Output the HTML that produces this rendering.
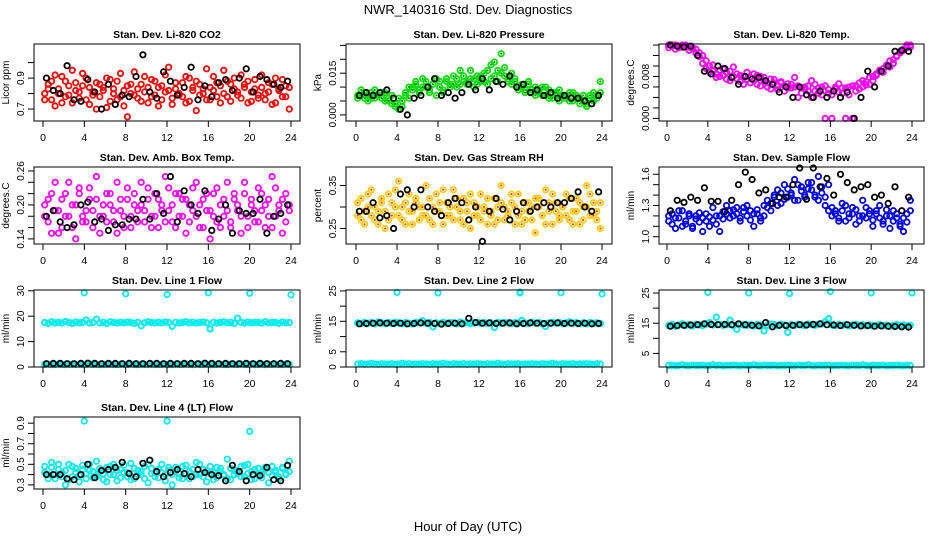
<!DOCTYPE html>
<html><head><meta charset="utf-8"><style>
html,body{margin:0;padding:0;background:#fff;}
svg{display:block;font-family:"Liberation Sans",sans-serif;}
</style></head><body>
<svg id="chart" width="936" height="540" viewBox="0 0 936 540" xmlns="http://www.w3.org/2000/svg">
<rect width="936" height="540" fill="#fff"/>
<text x="468" y="14" text-anchor="middle" font-size="13">NWR_140316  Std. Dev. Diagnostics</text>
<text x="468" y="531" text-anchor="middle" font-size="13">Hour of Day (UTC)</text>
</svg>
<script>
const hourTicks = [0,4,8,12,16,20,24];

const co2Red = [0.80,0.86,0.76,0.92,0.83,0.74,0.88,0.79,0.95,0.82,0.77,0.85,0.90,0.73,0.81,0.87,0.78,0.84,0.71,0.89,0.80,0.76,0.93,0.82,0.65,0.86,0.79,0.83,0.75,0.91,0.84,0.78,0.88,0.72,0.85,0.81,0.97,0.77,0.83,0.79,0.87,0.74,0.90,0.82,0.69,0.86,0.80,0.76,0.84,0.91,0.78,0.85,0.95,0.88,0.75,0.83,0.79,0.92,0.86,0.74,0.81,0.89,0.77,0.84,0.80,0.87,0.73,0.90,0.82,0.78,0.85,0.70];
const co2Red2 = [0.76,0.83,0.88,0.72,0.80,0.91,0.78,0.85,0.74,0.87,0.81,0.93,0.76,0.84,0.79,0.70,0.86,0.82,0.90,0.75,0.83,0.88,0.78,0.72,0.85,0.80,0.94,0.77,0.86,0.81,0.74,0.89,0.79,0.84,0.76,0.92,0.82,0.73,0.87,0.80,0.78,0.91,0.75,0.84,0.88,0.79,0.83,0.96,0.76,0.82,0.87,0.74,0.80,0.78,0.86,0.90,0.81,0.77,0.84,0.88,0.75,0.83,0.79,0.92,0.76,0.81,0.86,0.74,0.83,0.89,0.78,0.84];
const co2Black = [0.90,0.82,0.80,0.98,0.76,0.75,0.89,0.81,0.70,0.86,0.73,0.79,0.78,0.91,1.05,0.81,0.77,0.94,0.88,0.79,0.84,0.97,0.76,0.85,0.78,0.87,0.89,0.82,0.90,0.96,0.81,0.91,0.89,0.86,0.84,0.88];
const presGreen = [0.007,0.009,0.006,0.007,0.008,0.006,0.007,0.008,0.005,0.006,0.004,0.003,0.002,0.005,0.007,0.006,0.010,0.012,0.009,0.013,0.010,0.008,0.011,0.007,0.012,0.009,0.013,0.011,0.014,0.010,0.016,0.012,0.011,0.013,0.010,0.014,0.012,0.015,0.011,0.013,0.019,0.016,0.022,0.014,0.012,0.015,0.013,0.010,0.011,0.009,0.012,0.008,0.010,0.009,0.007,0.010,0.006,0.008,0.007,0.009,0.006,0.007,0.005,0.008,0.006,0.004,0.007,0.003,0.006,0.008,0.007,0.012];
const presGreen2 = [0.006,0.007,0.008,0.005,0.006,0.009,0.007,0.006,0.008,0.005,0.007,0.004,0.006,0.003,0.008,0.010,0.009,0.011,0.008,0.010,0.012,0.009,0.011,0.013,0.010,0.008,0.012,0.010,0.011,0.013,0.011,0.014,0.012,0.016,0.013,0.011,0.014,0.012,0.016,0.018,0.014,0.012,0.015,0.017,0.013,0.011,0.012,0.009,0.010,0.008,0.011,0.009,0.007,0.008,0.010,0.007,0.009,0.006,0.008,0.005,0.007,0.006,0.008,0.005,0.007,0.006,0.005,0.004,0.007,0.005,0.006,0.008];
const presBlack = [0.007,0.008,0.007,0.008,0.009,0.006,0.002,0.000,0.006,0.007,0.010,0.013,0.007,0.008,0.006,0.008,0.011,0.009,0.013,0.009,0.012,0.011,0.014,0.010,0.011,0.008,0.009,0.007,0.008,0.006,0.007,0.006,0.006,0.005,0.004,0.007];
const tempMag = [0.014,0.0138,0.014,0.0135,0.014,0.0138,0.0136,0.0134,0.0132,0.0125,0.012,0.011,0.010,0.009,0.0085,0.008,0.0095,0.0075,0.009,0.008,0.0085,0.007,0.008,0.0075,0.0068,0.0085,0.0065,0.008,0.0072,0.006,0.0075,0.0068,0.0055,0.007,0.0062,0.0058,0.0065,0.006,0.004,0.0058,0.006,0.0052,0.004,0.0065,0.0048,0.006,0.0,0.0055,0.0045,0.006,0.005,0.0058,0.0,0.006,0.0062,0.0052,0.0068,0.006,0.007,0.0065,0.008,0.0085,0.009,0.0095,0.010,0.011,0.0105,0.012,0.0125,0.013,0.0135,0.014];
const tempMag2 = [0.0135,0.014,0.0132,0.0138,0.0136,0.014,0.013,0.0135,0.0125,0.0118,0.0105,0.0095,0.0088,0.0102,0.0078,0.0092,0.0082,0.0088,0.0072,0.0098,0.0076,0.0082,0.0065,0.0088,0.0078,0.0072,0.0082,0.0062,0.0078,0.0068,0.0056,0.0074,0.0062,0.0068,0.0052,0.0066,0.0058,0.0078,0.0062,0.0048,0.0056,0.0062,0.0072,0.0052,0.0058,0.0045,0.0062,0.0048,0.0,0.0056,0.0066,0.0048,0.0058,0.0045,0.0,0.0062,0.0056,0.0072,0.0064,0.0078,0.0072,0.0082,0.0092,0.0088,0.0102,0.0098,0.0112,0.0118,0.0128,0.0132,0.014,0.0136];
const tempBlack = [0.014,0.0138,0.0136,0.0138,0.012,0.009,0.0085,0.010,0.0095,0.0078,0.0065,0.008,0.0075,0.0078,0.0072,0.0065,0.005,0.006,0.004,0.006,0.0045,0.004,0.0052,0.004,0.0052,0.004,0.005,0.0,0.004,0.009,0.006,0.009,0.010,0.0128,0.013,0.0128];
const ambMag = [0.18,0.21,0.15,0.24,0.19,0.16,0.22,0.18,0.20,0.14,0.23,0.17,0.19,0.21,0.16,0.25,0.18,0.20,0.17,0.22,0.19,0.15,0.21,0.18,0.23,0.16,0.20,0.19,0.24,0.17,0.21,0.18,0.22,0.16,0.20,0.25,0.19,0.17,0.22,0.18,0.21,0.15,0.20,0.23,0.18,0.16,0.21,0.19,0.14,0.22,0.17,0.20,0.18,0.24,0.16,0.21,0.19,0.15,0.22,0.18,0.20,0.17,0.23,0.19,0.16,0.21,0.25,0.18,0.20,0.15,0.22,0.19];
const ambMag2 = [0.20,0.17,0.22,0.19,0.15,0.21,0.18,0.24,0.16,0.20,0.22,0.18,0.17,0.23,0.19,0.21,0.15,0.18,0.22,0.20,0.17,0.24,0.19,0.16,0.21,0.18,0.22,0.17,0.20,0.19,0.23,0.16,0.18,0.21,0.19,0.17,0.23,0.20,0.16,0.22,0.18,0.21,0.17,0.19,0.24,0.20,0.16,0.22,0.19,0.18,0.23,0.16,0.21,0.19,0.17,0.22,0.20,0.18,0.24,0.16,0.21,0.19,0.17,0.22,0.20,0.18,0.16,0.23,0.19,0.21,0.17,0.20];
const ambBlack = [0.18,0.19,0.17,0.16,0.165,0.20,0.205,0.17,0.175,0.155,0.165,0.165,0.175,0.175,0.21,0.175,0.22,0.185,0.25,0.17,0.225,0.20,0.185,0.225,0.155,0.175,0.20,0.15,0.19,0.185,0.185,0.21,0.15,0.18,0.185,0.20];
const rhOrange = [0.28,0.32,0.26,0.30,0.34,0.27,0.29,0.31,0.25,0.33,0.28,0.30,0.36,0.27,0.31,0.29,0.26,0.32,0.30,0.28,0.35,0.27,0.30,0.33,0.29,0.26,0.31,0.28,0.34,0.30,0.27,0.32,0.29,0.25,0.31,0.28,0.33,0.30,0.26,0.29,0.32,0.27,0.35,0.30,0.28,0.31,0.26,0.33,0.29,0.27,0.31,0.30,0.24,0.32,0.28,0.34,0.29,0.26,0.31,0.28,0.30,0.33,0.27,0.29,0.32,0.26,0.30,0.35,0.28,0.31,0.27,0.25];
const rhOrange2 = [0.31,0.27,0.29,0.33,0.28,0.30,0.26,0.32,0.29,0.27,0.31,0.34,0.28,0.30,0.26,0.33,0.29,0.31,0.27,0.30,0.28,0.32,0.26,0.29,0.31,0.34,0.28,0.30,0.27,0.32,0.29,0.26,0.31,0.33,0.28,0.30,0.27,0.29,0.32,0.28,0.26,0.30,0.31,0.27,0.29,0.33,0.30,0.28,0.26,0.31,0.29,0.27,0.32,0.30,0.28,0.26,0.31,0.33,0.29,0.27,0.30,0.28,0.32,0.26,0.29,0.31,0.27,0.30,0.33,0.28,0.29,0.31];
const rhBlack = [0.29,0.29,0.31,0.275,0.28,0.25,0.33,0.34,0.30,0.34,0.30,0.29,0.28,0.31,0.32,0.31,0.27,0.30,0.22,0.29,0.32,0.295,0.27,0.29,0.31,0.29,0.30,0.31,0.30,0.31,0.31,0.32,0.335,0.30,0.29,0.335];
const flowBlue = [1.15,1.22,1.08,1.18,1.25,1.12,1.20,1.10,1.17,1.23,1.05,1.15,1.19,1.28,1.12,1.20,1.24,1.30,1.18,1.26,1.22,1.15,1.28,1.20,1.25,1.10,1.22,1.18,1.30,1.35,1.25,1.40,1.45,1.32,1.50,1.38,1.42,1.55,1.35,1.48,1.40,1.52,1.45,1.38,1.58,1.42,1.30,1.50,1.20,1.25,1.18,1.32,1.15,1.22,1.28,1.12,1.20,1.35,1.18,1.25,1.10,1.22,1.30,1.15,1.20,1.08,1.25,1.18,1.12,1.05,1.22,1.35];
const flowBlue2 = [1.20,1.12,1.18,1.25,1.10,1.15,1.22,1.08,1.20,1.14,1.18,1.22,1.10,1.16,1.20,1.05,1.17,1.22,1.25,1.20,1.28,1.18,1.24,1.30,1.16,1.22,1.26,1.15,1.20,1.28,1.32,1.38,1.30,1.42,1.36,1.46,1.40,1.35,1.50,1.44,1.38,1.46,1.52,1.40,1.35,1.48,1.38,1.25,1.28,1.22,1.15,1.25,1.30,1.18,1.22,1.26,1.15,1.20,1.28,1.22,1.16,1.25,1.18,1.12,1.26,1.20,1.15,1.22,1.10,1.18,1.14,1.25];
const flowBlack = [1.25,1.35,1.33,1.38,1.35,1.47,1.34,1.34,1.24,1.35,1.50,1.62,1.55,1.42,1.45,1.32,1.38,1.38,1.50,1.66,1.36,1.66,1.48,1.56,1.40,1.60,1.52,1.45,1.48,1.50,1.38,1.40,1.32,1.48,1.25,1.38];
const line1Hi = [17.5,17.2,17.8,17.4,17.6,17.3,17.9,17.5,17.2,17.7,17.4,17.6,18.5,17.3,17.5,18.8,17.4,17.6,17.2,17.8,17.5,17.3,17.6,17.4,17.7,17.5,17.2,17.6,16.2,17.4,17.8,17.5,17.3,17.6,17.4,17.7,17.5,16.0,17.6,17.3,17.5,17.8,17.4,17.6,17.3,17.5,17.7,17.4,15.0,17.6,17.3,17.5,17.8,17.4,17.6,17.2,19.2,17.5,17.3,17.7,17.4,17.6,17.5,17.3,17.8,17.4,17.6,17.5,17.2,17.7,17.4,17.5];
const line1Lo = [1.0,1.1,0.9,1.0,1.2,1.0,0.9,1.1,1.0,1.0,1.1,0.9,1.0,1.2,1.0,1.1,0.9,1.0,1.0,1.1,1.0,0.9,1.1,1.0,1.0,1.2,1.0,0.9,1.1,1.0,1.0,1.1,0.9,1.0,1.0,1.1,1.0,0.9,1.1,1.0,1.0,1.2,1.0,0.9,1.1,1.0,1.0,1.1,0.9,1.0,1.0,1.1,1.0,0.9,1.1,1.0,1.0,1.2,1.0,0.9,1.1,1.0,1.0,1.1,0.9,1.0,1.0,1.1,1.0,0.9,1.1,1.0];
const line1Out = [29.2,28.8,28.5,29.2,29.0,28.4];
const line1Black = [1.3,1.4,1.4,1.3,1.3,1.4,1.5,1.4,1.3,1.4,1.4,1.3,1.4,1.3,1.3,1.4,1.4,1.3,1.4,1.3,1.4,1.4,1.3,1.5,1.4,1.3,1.4,1.3,1.3,1.4,1.3,1.4,1.3,1.3,1.4,1.3];
const line2Hi = [14.5,14.3,14.7,14.4,14.6,14.2,14.8,14.5,14.3,14.6,14.4,14.7,14.5,14.3,14.6,14.4,14.2,14.7,14.5,15.2,14.4,14.6,13.2,14.5,14.3,14.7,14.4,14.6,14.5,14.2,14.8,14.4,14.6,14.3,14.5,14.7,14.4,14.6,14.3,14.5,13.0,14.7,14.4,14.6,14.5,14.3,14.6,14.4,15.3,14.5,14.3,14.7,14.4,14.6,14.2,13.3,14.5,14.7,14.4,14.6,14.3,14.5,14.8,14.4,14.6,14.3,14.5,14.2,14.6,14.4,14.5,14.3];
const line2Lo = [1.0,1.1,0.9,1.0,1.2,1.0,0.9,1.1,1.0,1.0,1.1,0.9,1.0,1.2,1.0,1.1,0.9,1.0,1.0,1.1,1.0,0.9,1.1,1.0,1.0,1.2,1.0,0.9,1.1,1.0,1.0,1.1,0.9,1.0,1.0,1.1,1.0,0.9,1.1,1.0,1.0,1.2,1.0,0.9,1.1,1.0,1.0,1.1,0.9,1.0,1.0,1.1,1.0,0.9,1.1,1.0,1.0,1.2,1.0,0.9,1.1,1.0,1.0,1.1,0.9,1.0,1.0,1.1,1.0,0.9,1.1,1.0];
const line2Out = [24.5,24.3,24.6,24.4,24.3,24.0];
const line2Black = [14.2,14.3,14.4,14.5,14.4,14.3,14.4,14.2,14.3,14.5,14.4,14.3,14.1,14.3,14.4,14.2,16.0,14.6,14.4,14.5,14.3,14.4,14.5,14.2,14.3,14.5,14.4,14.3,14.4,14.5,14.3,14.4,14.3,14.4,14.2,14.3];
const line3Hi = [14.2,14.6,14.0,14.4,14.8,14.3,14.5,14.1,14.6,14.4,14.2,14.7,15.2,14.4,17.0,14.6,14.3,14.5,16.0,14.2,13.0,14.6,14.4,14.3,14.5,14.1,14.6,14.4,12.5,14.3,14.7,14.5,14.2,14.6,14.4,12.0,14.5,14.3,14.6,14.4,14.2,14.7,14.5,14.3,14.6,14.8,15.5,16.5,14.4,14.2,14.6,14.3,14.5,14.1,14.4,14.6,14.3,14.5,14.2,14.4,14.1,14.3,14.5,14.2,14.4,14.0,14.3,14.5,14.2,14.4,14.1,14.3];
const line3Lo = [1.0,1.1,0.9,1.0,1.2,1.0,0.9,1.1,1.0,1.0,1.1,0.9,1.0,1.2,1.0,1.1,0.9,1.0,1.0,1.1,1.0,0.9,1.1,1.0,1.0,1.2,1.0,0.9,1.1,1.0,1.0,1.1,0.9,1.0,1.0,1.1,1.0,0.9,1.1,1.0,1.0,1.2,1.0,0.9,1.1,1.0,1.0,1.1,0.9,1.0,1.0,1.1,1.0,0.9,1.1,1.0,1.0,1.2,1.0,0.9,1.1,1.0,1.0,1.1,0.9,1.0,1.0,1.1,1.0,0.9,1.1,1.0];
const line3Out = [25.2,25.0,24.8,25.5,25.0,25.0];
const line3Black = [14.0,14.2,14.3,14.4,14.5,14.8,14.6,14.5,14.6,14.5,14.8,14.5,14.3,14.1,15.2,13.8,14.3,14.2,14.3,14.5,14.4,14.6,14.8,14.5,14.4,14.2,14.5,14.3,14.1,14.2,14.0,14.1,14.0,13.9,13.8,13.7];
const line4Cyan = [0.48,0.40,0.52,0.36,0.45,0.42,0.30,0.50,0.38,0.46,0.33,0.49,0.41,0.44,0.37,0.53,0.43,0.35,0.47,0.40,0.50,0.34,0.45,0.42,0.38,0.51,0.36,0.44,0.40,0.48,0.32,0.46,0.42,0.37,0.50,0.40,0.44,0.30,0.47,0.41,0.36,0.49,0.43,0.38,0.52,0.40,0.45,0.33,0.48,0.42,0.37,0.46,0.40,0.55,0.35,0.44,0.41,0.48,0.38,0.50,0.43,0.36,0.46,0.40,0.45,0.32,0.48,0.42,0.38,0.47,0.40,0.53];
const line4Cyan2 = [0.42,0.36,0.47,0.40,0.50,0.38,0.44,0.35,0.48,0.42,0.39,0.45,0.36,0.50,0.43,0.38,0.46,0.41,0.33,0.48,0.40,0.44,0.37,0.49,0.42,0.35,0.46,0.40,0.43,0.36,0.50,0.41,0.38,0.45,0.42,0.34,0.47,0.40,0.43,0.37,0.48,0.41,0.36,0.45,0.40,0.50,0.38,0.44,0.41,0.35,0.47,0.43,0.39,0.36,0.46,0.40,0.44,0.38,0.49,0.41,0.35,0.45,0.40,0.37,0.47,0.42,0.39,0.44,0.36,0.46,0.41,0.43];
const line4Out = [0.92,0.92,0.82];
const line4Black = [0.40,0.40,0.40,0.36,0.35,0.40,0.50,0.37,0.44,0.45,0.47,0.52,0.41,0.38,0.51,0.54,0.43,0.38,0.42,0.45,0.41,0.38,0.45,0.42,0.40,0.39,0.34,0.49,0.43,0.34,0.40,0.39,0.47,0.35,0.34,0.49];

const NS = "http://www.w3.org/2000/svg";
const svg = document.getElementById('chart');
const colX = [[34,300,43,291],[346,612,356,602],[659,924,667,912]];
const rowY = [[44,121],[167,244],[290,367],[417,489]];
function mk(tag, attrs, parent){const e=document.createElementNS(NS,tag);for(const k in attrs)e.setAttribute(k,attrs[k]);(parent||svg).appendChild(e);return e;}
function hours(arr, shift){return arr.map((v,i)=>i*24/arr.length + (24/arr.length)*(shift||0.5));}

const panels = [
 {name:'co2',title:'Stan. Dev. Li-820 CO2',yl:'Licor ppm',r:0,c:0,ymin:0.623,ymax:1.12,ticks:[0.7,0.8,0.9,1.0],labels:['0.7','','0.9',''],series:[{v:co2Red,col:'#ff0000'},{v:co2Red2,col:'#ff0000',s:0},{v:co2Black,col:'#000'}]},
 {name:'pressure',title:'Stan. Dev. Li-820 Pressure',yl:'kPa',r:0,c:1,ymin:-0.0022,ymax:0.0255,ticks:[0,0.005,0.01,0.015,0.02,0.025],labels:['0.000','','','0.015','',''],series:[{v:presGreen,col:'#00dd00',dot:'#008800'},{v:presGreen2,col:'#00dd00',dot:'#008800',s:0},{v:presBlack,col:'#000'}]},
 {name:'li820-temp',title:'Stan. Dev. Li-820 Temp.',yl:'degrees.C',r:0,c:2,ymin:-0.0005,ymax:0.0142,ticks:[0,0.002,0.004,0.006,0.008,0.010,0.012,0.014],labels:['0.000','','','','0.008','','',''],series:[{v:tempMag,col:'#ff00ff'},{v:tempMag2,col:'#ff00ff',s:0},{v:tempBlack,col:'#000'}]},
 {name:'amb-box-temp',title:'Stan. Dev. Amb. Box Temp.',yl:'degrees.C',r:1,c:0,ymin:0.131,ymax:0.267,ticks:[0.14,0.16,0.18,0.20,0.22,0.24,0.26],labels:['0.14','','','0.20','','','0.26'],series:[{v:ambMag,col:'#ff00ff'},{v:ambMag2,col:'#ff00ff',s:0},{v:ambBlack,col:'#000'}]},
 {name:'gas-stream-rh',title:'Stan. Dev. Gas Stream RH',yl:'percent',r:1,c:1,ymin:0.214,ymax:0.393,ticks:[0.25,0.30,0.35],labels:['0.25','','0.35'],series:[{v:rhOrange,col:'#ffcc00',dot:'#ff2200'},{v:rhOrange2,col:'#ffcc00',dot:'#ff2200',s:0},{v:rhBlack,col:'#000'}]},
 {name:'sample-flow',title:'Stan. Dev. Sample Flow',yl:'ml/min',r:1,c:2,ymin:0.93,ymax:1.67,ticks:[1.0,1.1,1.2,1.3,1.4,1.5,1.6],labels:['1.0','','','1.3','','','1.6'],series:[{v:flowBlue,col:'#0000ee'},{v:flowBlue2,col:'#0000ee',s:0},{v:flowBlack,col:'#000'}]},
 {name:'line1-flow',title:'Stan. Dev. Line 1 Flow',yl:'ml/min',r:2,c:0,ymin:0,ymax:30.3,ticks:[0,10,20,30],labels:['0','10','20','30'],series:[{v:line1Hi,col:'#00eeee'},{v:line1Hi,col:'#00eeee',s:0},{v:line1Lo,col:'#00eeee'},{v:line1Out,col:'#00eeee',h:[4,8,12,16,20,24]},{v:line1Black,col:'#000'}]},
 {name:'line2-flow',title:'Stan. Dev. Line 2 Flow',yl:'ml/min',r:2,c:1,ymin:0,ymax:25.3,ticks:[0,5,10,15,20,25],labels:['0','5','','15','','25'],series:[{v:line2Hi,col:'#00eeee'},{v:line2Hi,col:'#00eeee',s:0},{v:line2Lo,col:'#00eeee'},{v:line2Out,col:'#00eeee',h:[4,8,16,20,16,24]},{v:line2Black,col:'#000'}]},
 {name:'line3-flow',title:'Stan. Dev. Line 3 Flow',yl:'ml/min',r:2,c:2,ymin:0.5,ymax:26,ticks:[5,10,15,20,25],labels:['5','','15','','25'],series:[{v:line3Hi,col:'#00eeee'},{v:line3Hi,col:'#00eeee',s:0},{v:line3Lo,col:'#00eeee'},{v:line3Out,col:'#00eeee',h:[4,8,12,16,20,24]},{v:line3Black,col:'#000'}]},
 {name:'line4-flow',title:'Stan. Dev. Line 4 (LT) Flow',yl:'ml/min',r:3,c:0,ymin:0.26,ymax:0.96,ticks:[0.3,0.4,0.5,0.6,0.7,0.8,0.9],labels:['0.3','','0.5','','0.7','','0.9'],series:[{v:line4Cyan,col:'#00eeee'},{v:line4Cyan2,col:'#00eeee',s:0},{v:line4Out,col:'#00eeee',h:[4,12,20]},{v:line4Black,col:'#000'}]}
];

panels.forEach(p=>{
  const [bl,br,h0,h24]=colX[p.c]; const [bt,bb]=rowY[p.r];
  const g=mk('g',{});
  
  
  const xs=h=>h0+(h24-h0)*h/24;
  const ys=v=>bb-(v-p.ymin)/(p.ymax-p.ymin)*(bb-bt);
  const t=mk('text',{x:(bl+br)/2,y:bt-6,'text-anchor':'middle','font-size':'10.5','font-weight':'bold'},g);
  t.textContent=p.title;
  
  
  const yl=mk('text',{x:0,y:0,'text-anchor':'middle','font-size':'10',transform:`translate(${bl-25},${(bt+bb)/2}) rotate(-90)`},g);
  yl.textContent=p.yl;
  
  
  const layer=mk('g',{},g);
  p.series.forEach(s=>{
    const hs=s.h||hours(s.v, s.s);
    s.v.forEach((v,i)=>{
      const cx=xs(hs[i]),cy=ys(v);
      const c=mk('circle',{cx:cx.toFixed(1),cy:cy.toFixed(1),r:2.7,fill:'none',stroke:s.col,'stroke-width':1.8},layer);
      
      
      if(s.dot){mk('circle',{cx:cx.toFixed(1),cy:cy.toFixed(1),r:1,fill:s.dot},layer);}
    });
  });
  const box=mk('rect',{x:bl,y:bt,width:br-bl,height:bb-bt,fill:'none',stroke:'#000','stroke-width':1},g);
  
  
  hourTicks.forEach(h=>{
    mk('line',{x1:xs(h),x2:xs(h),y1:bb,y2:bb+6,stroke:'#000'},g);
    const tl=mk('text',{x:xs(h),y:bb+20,'text-anchor':'middle','font-size':'10.5'},g);
    tl.textContent=h;
    
    
  });
  p.ticks.forEach((v,i)=>{
    const y=ys(v);
    mk('line',{x1:bl-6,x2:bl,y1:y,y2:y,stroke:'#000'},g);
    if(p.labels[i]){
      const tl=mk('text',{x:0,y:0,'text-anchor':'middle','font-size':'10',transform:`translate(${bl-10},${y}) rotate(-90)`},g);
      tl.textContent=p.labels[i];
      
      
    }
  });
});
</script>
</body></html>
